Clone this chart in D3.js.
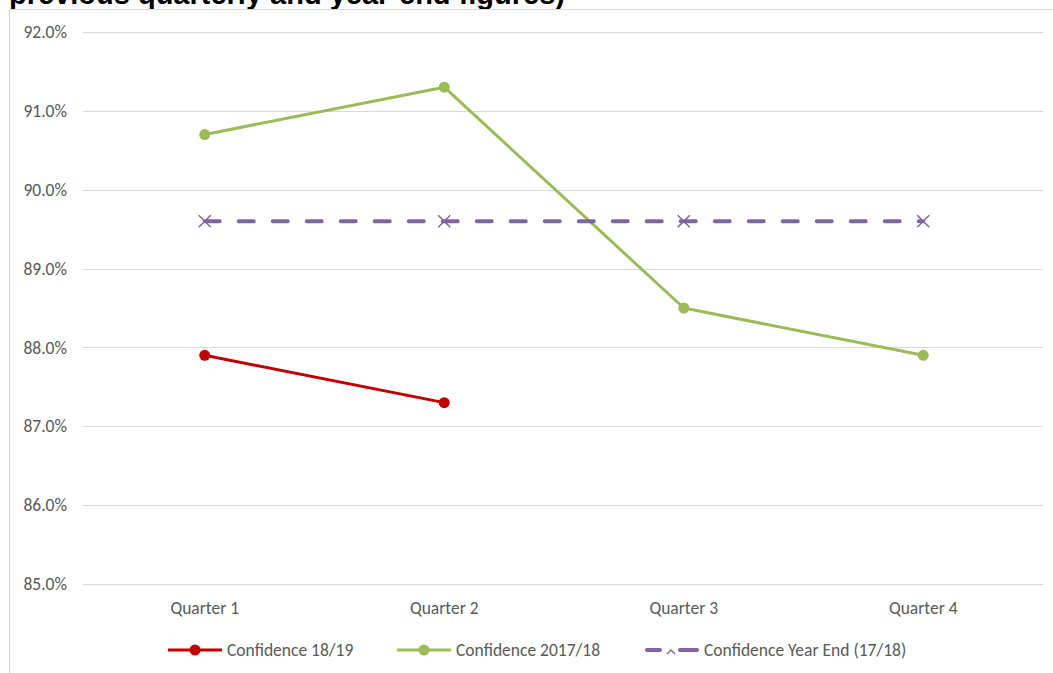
<!DOCTYPE html>
<html>
<head>
<meta charset="utf-8">
<style>
  body { margin: 0; background: #fff; }
  svg { display: block; }
  .tick text { font-family: Calibri, Carlito, Lato, sans-serif; fill: #595959; font-size: 17.5px; }
  .legend text { font-family: Calibri, Carlito, Lato, sans-serif; fill: #595959; font-size: 17.5px; }
  .title { font-family: "Liberation Sans", Arial, sans-serif; font-weight: bold; font-size: 29px; fill: #000; }
</style>
</head>
<body>
<script src="https://d3js.org/d3.v7.min.js"></script>
<script>
// data
var quarters = ["Quarter 1", "Quarter 2", "Quarter 3", "Quarter 4"];
var conf1819 = [87.9, 87.3];
var conf1718 = [90.7, 91.3, 88.5, 87.9];
var yearEnd = [89.6, 89.6, 89.6, 89.6];
var yTicks = [85, 86, 87, 88, 89, 90, 91, 92];

var W = 1053, H = 673;
var margin = {top: 32, right: 10, bottom: 89, left: 85};

var svg = d3.select("body").append("svg")
    .attr("width", W)
    .attr("height", H);

// title, mostly cropped off the top
svg.append("text")
    .attr("class", "title")
    .attr("x", 9)
    .attr("y", 4)
    .text("previous quarterly and year-end figures)");

// chart area border
svg.append("path")
    .attr("d", "M9.5," + H + "V9.5H" + W)
    .attr("fill", "none")
    .attr("stroke", "#d9d9d9");

var x = d3.scaleBand()
    .domain(quarters)
    .range([margin.left, 1043]);

var y = d3.scaleLinear()
    .domain([85, 92])
    .range([H - margin.bottom, margin.top]);

// gridlines
svg.append("g")
    .selectAll("line")
    .data(yTicks)
    .enter().append("line")
    .attr("x1", 83)
    .attr("x2", 1043)
    .attr("y1", function(d) { return Math.round(y(d)) + 0.5; })
    .attr("y2", function(d) { return Math.round(y(d)) + 0.5; })
    .attr("stroke", "#d9d9d9")
    .attr("stroke-width", 1);

// y axis labels
var yAxis = svg.append("g")
    .attr("transform", "translate(67,0)")
    .call(d3.axisLeft(y).tickValues(yTicks).tickSize(0).tickPadding(0)
        .tickFormat(function(d) { return d.toFixed(1) + "%"; }));
yAxis.select(".domain").remove();

// x axis labels
var xAxis = svg.append("g")
    .attr("transform", "translate(0," + (H - margin.bottom) + ")")
    .call(d3.axisBottom(x).tickSize(0).tickPadding(18));
xAxis.select(".domain").remove();

function cx(i) { return x(quarters[i]) + x.bandwidth() / 2; }

var line = d3.line()
    .x(function(d, i) { return cx(i); })
    .y(function(d) { return y(d); });

// green series
svg.append("path")
    .datum(conf1718)
    .attr("d", line)
    .attr("fill", "none")
    .attr("stroke", "#9BBB59")
    .attr("stroke-width", 3)
    .attr("stroke-linejoin", "round");
svg.append("g").selectAll("circle")
    .data(conf1718)
    .enter().append("circle")
    .attr("cx", function(d, i) { return cx(i); })
    .attr("cy", function(d) { return y(d); })
    .attr("r", 5.5)
    .attr("fill", "#9BBB59");

// purple dashed year end
svg.append("path")
    .datum(yearEnd)
    .attr("d", line)
    .attr("fill", "none")
    .attr("stroke", "#8064A2")
    .attr("stroke-width", 4)
    .attr("stroke-linecap", "round")
    .attr("stroke-dasharray", "15,19");
svg.append("g").selectAll("path")
    .data(yearEnd)
    .enter().append("path")
    .attr("d", function(d, i) {
        var px = cx(i), py = y(d), s = 6;
        return "M" + (px - s) + "," + (py - s) + "L" + (px + s) + "," + (py + s) +
               "M" + (px - s) + "," + (py + s) + "L" + (px + s) + "," + (py - s);
    })
    .attr("stroke", "#8064A2")
    .attr("stroke-width", 1.5)
    .attr("fill", "none");

// red series
svg.append("path")
    .datum(conf1819)
    .attr("d", line)
    .attr("fill", "none")
    .attr("stroke", "#C00000")
    .attr("stroke-width", 3);
svg.append("g").selectAll("circle")
    .data(conf1819)
    .enter().append("circle")
    .attr("cx", function(d, i) { return cx(i); })
    .attr("cy", function(d) { return y(d); })
    .attr("r", 5.5)
    .attr("fill", "#C00000");

// legend
var legendItems = [
    {name: "Confidence 18/19", color: "#C00000", x: 168, type: "dot"},
    {name: "Confidence 2017/18", color: "#9BBB59", x: 397, type: "dot"},
    {name: "Confidence Year End (17/18)", color: "#8064A2", x: 645, type: "cross"}
];
var legend = svg.append("g").attr("class", "legend");
var ly = 650;
legendItems.forEach(function(it) {
    var g = legend.append("g");
    if (it.type === "dot") {
        g.append("line")
            .attr("x1", it.x).attr("x2", it.x + 54)
            .attr("y1", ly).attr("y2", ly)
            .attr("stroke", it.color).attr("stroke-width", 3);
        g.append("circle")
            .attr("cx", it.x + 27).attr("cy", ly).attr("r", 5.5)
            .attr("fill", it.color);
    } else {
        g.append("line")
            .attr("x1", it.x + 2).attr("x2", it.x + 15)
            .attr("y1", ly).attr("y2", ly)
            .attr("stroke", it.color).attr("stroke-width", 4)
            .attr("stroke-linecap", "round");
        g.append("line")
            .attr("x1", it.x + 35).attr("x2", it.x + 52)
            .attr("y1", ly).attr("y2", ly)
            .attr("stroke", it.color).attr("stroke-width", 4)
            .attr("stroke-linecap", "round");
        g.append("path")
            .attr("d", "M" + (it.x + 22) + "," + (ly + 4) + "L" + (it.x + 26) + "," + ly + "L" + (it.x + 30) + "," + (ly + 4))
            .attr("stroke", it.color).attr("stroke-width", 1.5).attr("fill", "none");
    }
    g.append("text")
        .attr("x", it.x + 59)
        .attr("y", ly)
        .attr("dy", "0.35em")
        .text(it.name);
});
</script>
</body>
</html>
